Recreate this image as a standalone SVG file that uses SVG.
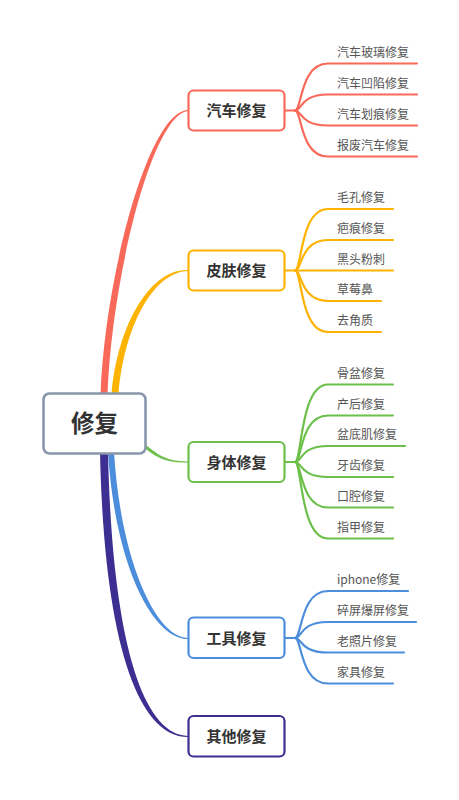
<svg xmlns="http://www.w3.org/2000/svg" width="459" height="800" viewBox="0 0 459 800">
<style>
.n1 { fill:#ffffff; stroke-width:2.2; }
.t1 { font-family:"Noto Sans CJK SC","Liberation Sans",sans-serif; font-size:15px; font-weight:bold; fill:#333333; text-anchor:middle; }
.t2 { font-family:"Noto Sans CJK SC","Liberation Sans",sans-serif; font-size:12px; fill:#555555; }
.br { fill:none; stroke-width:2.2; stroke-linecap:round; }
.red { stroke:#F8695A; }
.org { stroke:#FDB300; }
.grn { stroke:#6CC04A; }
.blu { stroke:#4C8DDC; }
.pur { stroke:#3D2F92; }
</style>
<rect width="459" height="800" fill="#ffffff"/>
<g id="connectors">
  <path d="M 100.5 395 C 104.5 280, 148 111, 188 109.9 L 188 111.1 C 152 115, 111.5 280, 107.5 395 Z" fill="#F8695A"/>
  <path d="M 111.5 395 C 116.5 330, 148 268.5, 188 269.9 L 188 271.1 C 152 272, 123.5 330, 118.5 395 Z" fill="#FDB300"/>
  <path d="M 144 443.5 C 160 456.5, 168 461.4, 188 461.4 L 188 462.6 C 168 462.6, 158 459.5, 143 446.5 Z" fill="#6CC04A"/>
  <path d="M 108 452 C 115 566, 153 639.1, 188 639.1 L 188 637.9 C 157 637.9, 121 564, 114 452 Z" fill="#4C8DDC"/>
  <path d="M 100 452 C 104 642, 138 737.2, 188 737.1 L 188 735.9 C 142 735, 112 638, 108 452 Z" fill="#3D2F92"/>

  <g class="br red">
    <path d="M 285 110.5 H 295"/>
    <path d="M 295 110.5 C 302 110.5, 300 63.5, 328 63.5 H 417"/>
    <path d="M 295 110.5 C 302 110.5, 300 94.5, 328 94.5 H 417"/>
    <path d="M 295 110.5 C 302 110.5, 300 125.5, 328 125.5 H 417"/>
    <path d="M 295 110.5 C 302 110.5, 300 156.5, 328 156.5 H 417"/>
  </g>
  <g class="br org">
    <path d="M 285 270.5 H 295"/>
    <path d="M 295 270.5 C 302 270.5, 300 209, 328 209 H 393"/>
    <path d="M 295 270.5 C 302 270.5, 300 240, 328 240 H 393"/>
    <path d="M 295 270.5 H 393"/>
    <path d="M 295 270.5 C 302 270.5, 300 301, 328 301 H 381"/>
    <path d="M 295 270.5 C 302 270.5, 300 332, 328 332 H 381"/>
  </g>
  <g class="br grn">
    <path d="M 285 462 H 295"/>
    <path d="M 295 462 C 302 462, 300 384.5, 328 384.5 H 393"/>
    <path d="M 295 462 C 302 462, 300 415.5, 328 415.5 H 393"/>
    <path d="M 295 462 C 302 462, 300 446, 328 446 H 405"/>
    <path d="M 295 462 C 302 462, 300 477, 328 477 H 393"/>
    <path d="M 295 462 C 302 462, 300 507.5, 328 507.5 H 393"/>
    <path d="M 295 462 C 302 462, 300 538.5, 328 538.5 H 393"/>
  </g>
  <g class="br blu">
    <path d="M 285 638 H 295"/>
    <path d="M 295 638 C 302 638, 300 591, 328 591 H 408"/>
    <path d="M 295 638 C 302 638, 300 622, 328 622 H 416"/>
    <path d="M 295 638 C 302 638, 300 652.5, 328 652.5 H 404"/>
    <path d="M 295 638 C 302 638, 300 683.5, 328 683.5 H 393"/>
  </g>
</g>

<g id="root">
  <rect x="43.5" y="393.5" width="102" height="60" rx="6" fill="#ffffff" stroke="#8A96AB" stroke-width="2.6"/>
  <text x="94.5" y="432" font-family="Noto Sans CJK SC, Liberation Sans, sans-serif" font-size="23.5" font-weight="bold" fill="#333333" text-anchor="middle">修复</text>
</g>

<g id="node-car">
  <rect class="n1 red" x="188.5" y="90.5" width="96" height="40" rx="5"/>
  <text class="t1" x="236.5" y="116">汽车修复</text>
</g>
<g id="node-skin">
  <rect class="n1 org" x="188.5" y="250.5" width="96" height="40" rx="5"/>
  <text class="t1" x="236.5" y="276">皮肤修复</text>
</g>
<g id="node-body">
  <rect class="n1 grn" x="188.5" y="442" width="96" height="40" rx="5"/>
  <text class="t1" x="236.5" y="467.5">身体修复</text>
</g>
<g id="node-tool">
  <rect class="n1 blu" x="188.5" y="617.5" width="96" height="40.5" rx="5"/>
  <text class="t1" x="236.5" y="643.5">工具修复</text>
</g>
<g id="node-other">
  <rect class="n1 pur" x="188.5" y="716" width="96" height="40.5" rx="5"/>
  <text class="t1" x="236.5" y="742">其他修复</text>
</g>

<g id="leaves-car">
  <text class="t2" x="337" y="56.5">汽车玻璃修复</text>
  <text class="t2" x="337" y="87.5">汽车凹陷修复</text>
  <text class="t2" x="337" y="118.5">汽车划痕修复</text>
  <text class="t2" x="337" y="149.5">报废汽车修复</text>
</g>
<g id="leaves-skin">
  <text class="t2" x="337" y="202">毛孔修复</text>
  <text class="t2" x="337" y="233">疤痕修复</text>
  <text class="t2" x="337" y="263.5">黑头粉刺</text>
  <text class="t2" x="337" y="294">草莓鼻</text>
  <text class="t2" x="337" y="325">去角质</text>
</g>
<g id="leaves-body">
  <text class="t2" x="337" y="377.5">骨盆修复</text>
  <text class="t2" x="337" y="408.5">产后修复</text>
  <text class="t2" x="337" y="439">盆底肌修复</text>
  <text class="t2" x="337" y="470">牙齿修复</text>
  <text class="t2" x="337" y="500.5">口腔修复</text>
  <text class="t2" x="337" y="531.5">指甲修复</text>
</g>
<g id="leaves-tool">
  <text class="t2" x="337" y="584">iphone修复</text>
  <text class="t2" x="337" y="615">碎屏爆屏修复</text>
  <text class="t2" x="337" y="645.5">老照片修复</text>
  <text class="t2" x="337" y="676.5">家具修复</text>
</g>
</svg>
